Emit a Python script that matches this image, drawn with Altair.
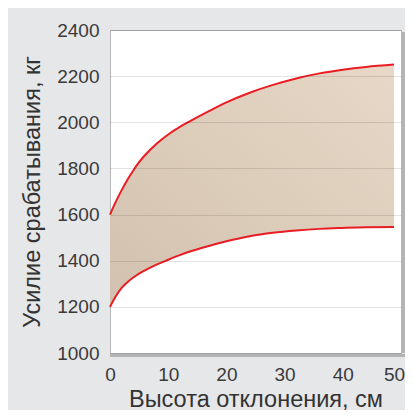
import altair as alt
import pandas as pd

# --- data ---
x_cm = [0, 1, 2, 3, 4, 5, 6, 8, 10, 12, 14, 17, 20, 24, 28, 32, 36, 40, 44, 48.8]
upper_kg = [1600, 1656, 1706, 1751, 1791, 1827, 1857, 1907, 1947, 1980, 2008, 2048, 2086, 2128, 2162, 2190, 2212, 2228, 2240, 2250]
lower_kg = [1200, 1246, 1282, 1307, 1327, 1344, 1358, 1383, 1404, 1424, 1442, 1464, 1484, 1506, 1521, 1531, 1538, 1542, 1545, 1546]
x_ticks = [0, 10, 20, 30, 40, 50]
y_ticks = [1000, 1200, 1400, 1600, 1800, 2000, 2200, 2400]
x_title = "Высота отклонения, см"
y_title = "Усилие срабатывания, кг"

df = pd.DataFrame({"x": x_cm, "upper": upper_kg, "lower": lower_kg})
dummy = pd.DataFrame({"a": [0]})

W, H = 291, 323
FONT = "Liberation Sans"
xs = alt.Scale(domain=[0, 50], nice=False)
ys = alt.Scale(domain=[1000, 2400], nice=False)

xax = alt.Axis(values=x_ticks, title=x_title, grid=False, domain=False, ticks=False, format="d",
               labelPadding=12, titlePadding=3, labelFlush=False, titleFontSize=23.5,
               labelOffset={"condition": {"test": "datum.value == 50", "value": -7}, "value": 0})
yax = alt.Axis(values=y_ticks, title=y_title, grid=True, domain=False, ticks=False, format="d",
               labelPadding=11, titlePadding=12, gridColor="#000000", gridOpacity=0.11,
               zindex=1, titleFontSize=23.5)

grad = alt.Gradient(
    gradient="linear",
    stops=[alt.GradientStop(color="#d2c1ae", offset=0),
           alt.GradientStop(color="#e7d8c7", offset=1)],
    x1=0, y1=1, x2=1, y2=0,
)

shadow_r = alt.Chart(dummy).mark_rule(color="#8a8a8a", strokeWidth=3, opacity=0.55, xOffset=2.5, y2Offset=2).encode(
    x=alt.datum(50, scale=xs), y=alt.datum(1000, scale=ys), y2=alt.datum(2400))
shadow_b = alt.Chart(dummy).mark_rule(color="#8a8a8a", strokeWidth=3, opacity=0.55, yOffset=2.5, x2Offset=4).encode(
    x=alt.datum(0, scale=xs), x2=alt.datum(50), y=alt.datum(1000, scale=ys))

base = alt.Chart(df)
area = base.mark_area(interpolate="monotone", color=grad).encode(
    x=alt.X("x:Q", scale=xs, axis=xax),
    y=alt.Y("lower:Q", scale=ys, axis=yax),
    y2="upper:Q",
)
up = base.mark_line(color="#ea1c24", strokeWidth=2, interpolate="monotone").encode(
    x=alt.X("x:Q", scale=xs), y=alt.Y("upper:Q", scale=ys))
lo = base.mark_line(color="#ea1c24", strokeWidth=2, interpolate="monotone").encode(
    x=alt.X("x:Q", scale=xs), y=alt.Y("lower:Q", scale=ys))

chart = alt.layer(shadow_r, shadow_b, area, up, lo).properties(
    width=W, height=H,
    autosize=alt.AutoSizeParams(type="none"),
    padding={"left": 102, "top": 22, "right": 4, "bottom": 57},
    background="#e6e7e8",
).configure_view(
    fill="#ffffff", stroke="#b5b5b5", strokeWidth=1,
).configure_axis(
    labelFont=FONT, titleFont=FONT, labelFontSize=19,
    labelColor="#3a3a3a", titleColor="#333333", titleFontWeight="normal",
)

chart.save("out.html", embed_options={"renderer": "svg", "actions": False})
